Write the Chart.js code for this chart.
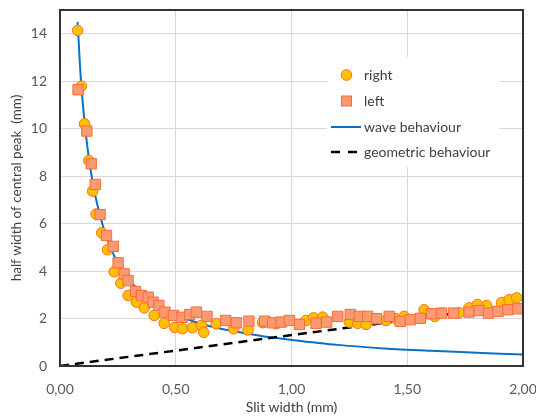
<!DOCTYPE html>
<html><head><meta charset="utf-8">
<script src="https://cdn.jsdelivr.net/npm/chart.js@4/dist/chart.umd.min.js"></script>
<style>html,body{margin:0;padding:0;background:#fff}</style>
</head><body>
<canvas id="c" width="536" height="416"></canvas>
<script>
// ---- data ----
const rightX = [0.076,0.092,0.106,0.124,0.141,0.156,0.180,0.205,0.234,0.263,0.294,0.330,0.364,0.407,0.450,0.496,0.529,0.572,0.611,0.621,0.675,0.750,0.812,0.875,0.884,0.934,1.063,1.095,1.135,1.250,1.286,1.322,1.408,1.451,1.487,1.573,1.619,1.724,1.767,1.803,1.843,1.907,1.940,1.973];
const rightY = [14.14,11.79,10.20,8.66,7.37,6.40,5.61,4.90,3.97,3.49,2.97,2.69,2.45,2.13,1.80,1.62,1.57,1.61,1.71,1.42,1.78,1.57,1.52,1.83,1.85,1.78,1.92,2.03,2.06,1.85,1.80,1.75,1.92,1.99,2.09,2.37,2.09,2.24,2.45,2.59,2.55,2.67,2.79,2.87];
const leftX = [0.078,0.116,0.135,0.152,0.173,0.201,0.230,0.251,0.277,0.294,0.326,0.352,0.381,0.402,0.427,0.453,0.490,0.527,0.560,0.589,0.635,0.716,0.762,0.816,0.884,0.919,0.955,0.991,1.034,1.106,1.152,1.200,1.254,1.293,1.329,1.368,1.422,1.470,1.513,1.556,1.605,1.648,1.700,1.767,1.810,1.851,1.892,1.935,1.978];
const leftY = [11.64,9.90,8.52,7.65,6.38,5.50,5.04,4.35,3.88,3.60,3.14,2.97,2.90,2.69,2.55,2.27,2.13,2.05,2.17,2.27,2.09,1.92,1.82,1.89,1.89,1.82,1.85,1.92,1.75,1.80,1.85,2.09,2.17,2.09,2.09,1.99,2.09,1.88,1.95,2.01,2.20,2.23,2.23,2.27,2.34,2.23,2.30,2.37,2.41];
const waveX = [0.076,0.090,0.105,0.120,0.140,0.160,0.190,0.220,0.250,0.300,0.350,0.400,0.450,0.500,0.600,0.700,0.800,0.900,1.000,1.200,1.400,1.600,1.800,2.000];
const waveY = [14.5,12.1,10.4,9.1,7.8,6.85,5.75,4.95,4.35,3.62,3.10,2.72,2.42,2.17,1.80,1.56,1.38,1.22,1.10,0.89,0.74,0.64,0.56,0.48];
const geoX = [0.0,2.0];
const geoY = [0.0,2.6];
const xTickLabels = ['0,00','0,50','1,00','1,50','2,00'];
const yTicks = [0,2,4,6,8,10,12,14];
const seriesNames = ['right','left','wave behaviour','geometric behaviour'];

const pts = (xs, ys) => xs.map((x, i) => ({x, y: ys[i]}));
const FONT = 'Lato, "Liberation Sans", sans-serif';

const frame = {
  id: 'frame',
  afterDraw(chart) {
    const {ctx, chartArea: a} = chart;
    ctx.save();
    ctx.strokeStyle = '#333';
    ctx.lineWidth = 2;
    ctx.strokeRect(a.left, a.top, a.right - a.left, a.bottom - a.top);
    // legend box
    ctx.fillStyle = '#fff';
    ctx.fillRect(327, 57, 172, 110);
    const ds = chart.data.datasets;
    const rows = [75, 101, 127, 152];
    ctx.font = '14px ' + FONT;
    ctx.fillStyle = '#404040';
    ctx.textBaseline = 'middle';
    ctx.textAlign = 'left';
    [0, 1, 2, 3].forEach((di, k) => {
      const d = ds[di];
      const y = rows[k];
      ctx.save();
      if (k === 0) {
        ctx.beginPath(); ctx.arc(346.5, y, 5.3, 0, Math.PI * 2);
        ctx.fillStyle = d.backgroundColor; ctx.fill();
        ctx.strokeStyle = d.borderColor; ctx.lineWidth = 1; ctx.stroke();
      } else if (k === 1) {
        ctx.fillStyle = d.backgroundColor; ctx.fillRect(341.5, y - 5, 10, 10);
        ctx.strokeStyle = d.borderColor; ctx.lineWidth = 1; ctx.strokeRect(341.5, y - 5, 10, 10);
      } else {
        ctx.beginPath(); ctx.moveTo(331, y); ctx.lineTo(k === 2 ? 361 : 357, y);
        ctx.strokeStyle = d.borderColor; ctx.lineWidth = d.borderWidth;
        if (k === 3) ctx.setLineDash([9, 8]);
        ctx.stroke();
      }
      ctx.restore();
      ctx.fillText(d.label, 364, y + 0.5);
    });
    ctx.restore();
  }
};

new Chart(document.getElementById('c'), {
  type: 'scatter',
  data: {
    datasets: [
      {label: seriesNames[0], data: pts(rightX, rightY), pointStyle: 'circle', pointRadius: 5.3,
       backgroundColor: '#FFC000', borderColor: '#FF7020', borderWidth: 1, order: 2},
      {label: seriesNames[1], data: pts(leftX, leftY), pointStyle: 'rect', pointRadius: 7.3,
       backgroundColor: '#FA9A72', borderColor: '#FF6A33', borderWidth: 1, order: 1},
      {label: seriesNames[2], data: pts(waveX, waveY), showLine: true, pointRadius: 0,
       borderColor: '#0A70C6', backgroundColor: '#0A70C6', borderWidth: 2, tension: 0.4,
       cubicInterpolationMode: 'monotone', order: 4},
      {label: seriesNames[3], data: pts(geoX, geoY), showLine: true, pointRadius: 0,
       borderColor: '#000', backgroundColor: '#000', borderWidth: 2.5, borderDash: [9, 6], order: 3}
    ]
  },
  options: {
    responsive: false,
    animation: false,
    events: [],
    layout: {padding: 0},
    plugins: {legend: {display: false}, tooltip: {enabled: false}},
    scales: {
      x: {
        type: 'linear', min: 0, max: 2,
        afterBuildTicks: s => { s.ticks = xTickLabels.map((_, i) => ({value: i * 0.5})); },
        afterFit: s => { s.height = 50; s.paddingLeft = 0; s.paddingRight = 13; },
        ticks: {callback: (v, i) => xTickLabels[i], color: '#595959', font: {family: FONT, size: 14}, padding: 15, maxRotation: 0},
        grid: {color: '#d9d9d9', lineWidth: 1, drawTicks: false},
        border: {display: false},
        title: {display: true, text: 'Slit width (mm)', color: '#404040', font: {family: FONT, size: 14}, padding: {top: 2, bottom: 0}}
      },
      y: {
        type: 'linear', min: 0, max: 15,
        afterBuildTicks: s => { s.ticks = yTicks.map(v => ({value: v})); },
        afterFit: s => { s.width = 60; s.paddingTop = 10; s.paddingBottom = 0; },
        ticks: {callback: v => String(v), color: '#595959', font: {family: FONT, size: 14}, padding: 13},
        grid: {color: '#d9d9d9', lineWidth: 1, drawTicks: false},
        border: {display: false},
        title: {display: true, text: 'half width of central peak  (mm)', color: '#404040', font: {family: FONT, size: 13.5}, padding: {top: 9, bottom: 0}}
      }
    }
  },
  plugins: [frame]
});
</script>
</body></html>
